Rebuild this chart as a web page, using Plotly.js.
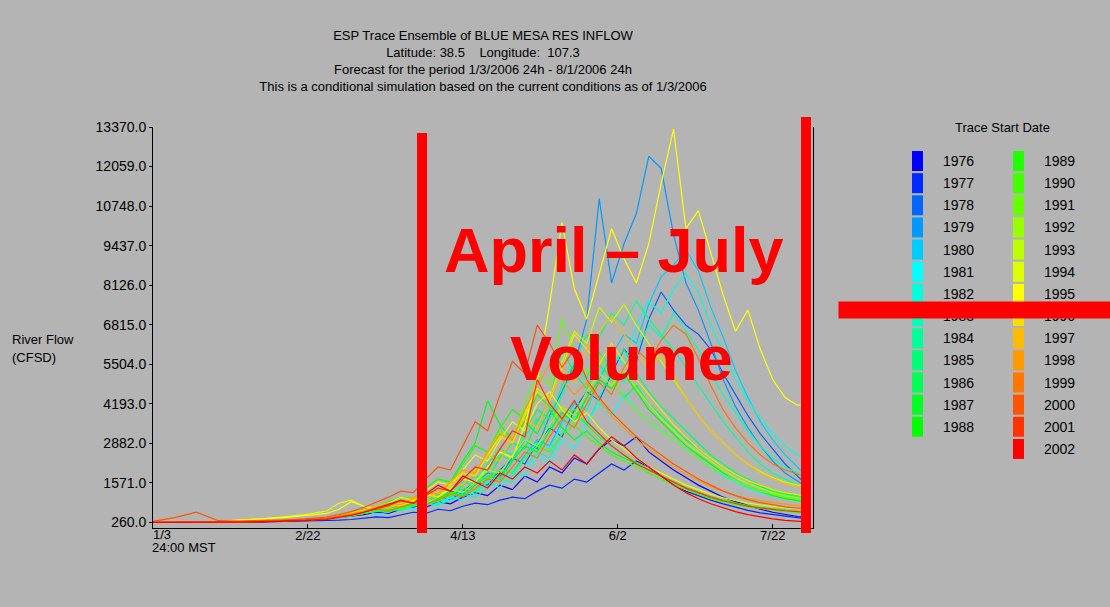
<!DOCTYPE html>
<html><head><meta charset="utf-8">
<script src="https://cdn.plot.ly/plotly-3.0.1.min.js"></script>
<style>html,body{margin:0;padding:0;background:#b4b4b4;}#chart{width:1110px;height:607px;}</style>
</head><body><div id="chart"></div>
<script>
// Day offsets from 1/3/2006 (24h)
const days = [0,7,14,21,28,35,42,49,56,60,64,68,72,76,80,84,88,92,96,100,104,108,112,116,120,124,128,132,136,140,144,148,152,156,160,164,168,172,176,180,184,188,192,196,200,204,208,210];

const years = [1976,1977,1978,1979,1980,1981,1982,1983,1984,1985,1986,1987,1988,1989,1990,1991,1992,1993,1994,1995,1996,1997,1998,1999,2000,2001,2002];
const colors = ['#0000ff','#0028ff','#0066ff','#0099ff','#00ccff','#00ffff','#00ffdd','#00ffbb','#00ff99','#00ff77','#00ff55','#00ff22','#00ff00','#22ff00','#44ff00','#66ff00','#99ff00','#bbff00','#ddff00','#ffff00','#ffdd00','#ffbb00','#ff9900','#ff7700','#ff5500','#ff3300','#ff0000'];

const flow1976 = [270,265,262,268,275,290,300,330, 380,420,470,520,600,560,700,820, 760,950,880,1100,1250,1150,1500,1350, 1800,1600,2100,1900,2400,2200,2700,3000, 2800,3100,2600,2300,2000,1750,1500,1300, 1100,950,820,700,600,520,460,440];
const flow1977 = [265,262,260,262,270,280,290,300, 320,340,360,400,450,420,520,600, 560,700,650,800,900,850,1000,1100, 1050,1300,1500,1400,1700,1600,1900,2200, 2000,2300,2100,1800,1500,1300,1150,1000, 880,760,660,580,520,460,420,400];
const flow1978 = [280,275,270,280,290,300,320,350, 400,450,500,560,620,700,800,760, 900,1100,1000,1300,1600,1500,2000,2400, 2200,2900,3400,3100,4000,4600,4300,5200, 6000,5600,7000,7900,7300,6800,6500,6000, 5200,4500,3800,3200,2700,2200,1800,1600];
const flow1979 = [280,275,272,280,290,300,320,360, 420,480,540,600,700,650,800,950, 880,1100,1300,1200,1600,1900,1800,2400, 3000,2700,3800,4600,5500,7000,11000,8200, 9500,10500,12400,12000,9800,8200,7300,6200, 5000,4100,3400,2800,2300,1900,1650,1500];
const flow1980 = [285,280,275,285,295,310,330,360, 400,460,520,580,650,750,700,850, 1000,950,1200,1400,1300,1700,2000,1900, 2500,3000,2800,3600,4200,4000,5000,5800, 6500,6200,7500,8400,8800,9300,8600,7400, 6400,5300,4400,3600,3000,2500,2100,1900];
const flow1981 = [275,270,268,275,285,300,320,340, 380,420,480,700,520,600,750,680, 900,800,1100,1000,1300,1600,1400,2000, 1800,2500,2200,3000,2700,3600,4200,3800, 4500,4000,3600,3300,3000,2700,2400,2100, 1800,1600,1400,1250,1150,1050,980,950];
const flow1982 = [280,275,270,280,290,300,320,350, 400,440,500,560,640,720,680,820, 950,900,1100,1300,1200,1600,1900,1800, 2400,2900,2700,3500,4300,4000,5100,5900, 5500,6800,7600,7200,8000,8500,7900,6800, 5900,5000,4300,3700,3200,2800,2500,2400];
const flow1983 = [285,280,275,285,295,310,330,360, 400,450,500,550,620,700,650,800, 900,850,1000,1200,1100,1400,1700,1600, 2100,2600,2400,3200,3800,3500,4400,5300, 4900,6000,6800,6400,7200,6600,6000,5200, 4500,3900,3300,2800,2400,2100,1900,1800];
const flow1984 = [280,275,272,280,290,305,325,355, 400,450,520,600,680,760,720,880, 1000,950,1300,1600,1500,2000,2500,2300, 3100,3700,3400,4500,5400,5000,6400,7200, 6800,7600,7000,6500,6000,5400,4800,4200, 3600,3100,2600,2200,1900,1700,1500,1400];
const flow1985 = [275,272,270,278,288,300,320,350, 390,440,500,580,660,760,900,820, 1100,1000,1400,1700,1600,2200,2700,2500, 3300,4000,3700,4800,5600,6500,5900,5400, 6000,5200,4600,4100,3700,3300,2900,2500, 2200,1900,1700,1500,1350,1250,1150,1100];
const flow1986 = [280,275,272,280,290,305,320,345, 380,430,480,560,640,740,860,800, 1000,1200,1100,1500,1800,1700,2400,2900, 2700,3600,4300,6000,5200,4700,5500,5000, 4400,4800,4200,3800,3400,3000,2700,2400, 2100,1850,1650,1450,1300,1200,1100,1050];
const flow1987 = [275,270,268,275,285,300,320,350, 400,460,540,640,760,900,1100,1000, 1400,1700,1600,2300,2900,4300,3500,3000, 3600,3200,4000,3400,3000,3300,2900,2600, 2400,2200,2000,1800,1600,1400,1250,1100, 980,880,800,740,690,650,620,600];
const flow1988 = [275,272,270,276,286,298,318,345, 390,440,500,580,660,620,760,900, 850,1050,1250,1150,1500,1800,1700,2300, 2800,2600,3300,3900,3600,4400,5000,4700, 5200,4600,4000,3600,3200,2800,2500,2200, 1900,1650,1450,1300,1150,1050,980,950];
const flow1989 = [278,274,270,278,290,305,330,370, 430,500,580,680,800,950,1100,1050, 1400,1700,1600,2200,2800,2600,3400,4000, 3700,4500,4100,3700,4000,3500,3100,2800, 2500,2250,2000,1800,1600,1400,1250,1100, 1000,900,820,760,700,660,630,610];
const flow1990 = [272,268,266,272,282,295,312,340, 380,430,490,560,640,740,700,850, 1000,950,1200,1400,1300,1700,2000,1900, 2400,2800,2600,3200,3500,3100,2800,2500, 2300,2100,1900,1700,1500,1350,1200,1050, 950,850,780,720,670,630,600,580];
const flow1991 = [278,274,270,278,288,302,322,352, 400,460,530,620,720,840,800,980, 1200,1100,1500,1900,1800,2600,3300,3000, 4200,5200,4800,7000,6000,5200,5800,5000, 4400,4000,3600,3300,3000,2700,2400,2100, 1850,1650,1450,1300,1200,1100,1050,1000];
const flow1992 = [276,272,270,276,286,300,318,348, 395,450,520,600,700,660,800,950, 900,1100,1350,1250,1600,2000,1900,2500, 3000,2800,3500,4100,3800,4600,5200,4800, 5300,4700,4200,3700,3300,2900,2600,2300, 2000,1750,1550,1400,1250,1150,1080,1050];
const flow1993 = [280,276,272,280,292,308,330,365, 420,490,570,670,790,920,880,1050, 1300,1200,1600,2000,1900,2600,3200,3000, 3900,4700,4400,5600,6600,6200,7400,6900, 7500,6800,6200,5600,5000,4400,3800,3300, 2900,2500,2200,1950,1750,1600,1500,1450];
const flow1994 = [285,280,276,300,340,380,450,520, 640,900,1000,800,700,900,1100,1000, 1300,1600,1500,2000,2500,2300,3000,3600, 3300,4200,4600,4000,3600,3900,3400,3000, 2700,2400,2100,1900,1700,1500,1350,1200, 1080,980,900,840,790,750,720,700];
const flow1995 = [290,285,280,300,330,380,420,480, 560,700,950,800,700,850,1000,950, 1200,1100,1400,1700,1600,2100,2600,2400, 3500,5000,7500,10200,8000,7000,8500,10000, 9000,8200,9500,11500,13300,10000,10600,9200, 7800,6600,7300,6000,5000,4400,4150,4150];
const flow1996 = [280,276,272,280,292,306,326,360, 410,470,540,630,740,870,820,1000, 1200,1100,1500,1900,1800,2500,3100,2900, 3800,4600,4300,5400,6500,6000,5500,6200, 5600,5000,4500,4000,3500,3100,2700,2400, 2100,1850,1650,1500,1350,1250,1180,1150];
const flow1997 = [282,278,274,282,294,310,332,368, 420,480,560,660,780,740,900,1100, 1000,1300,1600,1500,2000,2500,2300,3100, 3700,3400,4400,5300,4900,6000,6600,7100, 6500,5900,5300,5800,5100,4400,3800,3300, 2900,2500,2200,1900,1700,1550,1450,1400];
const flow1998 = [278,274,270,278,290,304,324,356, 405,465,540,640,760,900,850,1050, 1300,1200,1600,2000,1900,2600,3200,3000, 4000,4800,5500,5000,4500,4900,4300,3800, 3400,3000,2700,2400,2100,1850,1650,1450, 1300,1150,1050,980,920,870,830,800];
const flow1999 = [280,276,272,280,290,304,322,350, 395,450,520,600,700,660,780,900, 860,1000,1200,1100,1400,1700,1600,2100, 2600,2400,3100,3700,3400,4200,4900,4500, 5400,6000,5600,6300,6800,6500,5700,4800, 4000,3400,2900,2500,2200,2000,1850,1800];
const flow2000 = [300,420,600,320,310,320,340,380, 440,520,620,760,920,1100,1300,1250, 1700,2100,2000,2800,3600,3300,4500,5600, 5200,6800,6200,5400,6000,5000,4400,3900, 3500,3100,2800,2500,2200,1950,1700,1500, 1300,1150,1020,920,840,780,740,720];
const flow2001 = [268,265,262,268,278,292,310,340, 385,440,510,600,700,820,980,900, 1150,1400,1300,1700,2100,2000,2700,3300, 3100,5000,4200,3700,4300,3600,3200,2800, 2500,2200,2000,1800,1600,1400,1250,1100, 980,880,800,740,690,650,620,600];
const flow2002 = [262,260,258,262,270,280,295,320, 360,420,500,600,720,860,1000,900, 1200,1500,1300,1800,1600,1400,1900,1700, 2100,1900,2300,2000,2500,2200,2700,3100, 2800,2400,2100,1800,1500,1250,1050,880, 740,620,520,440,380,330,300,290];

const series = [flow1976,flow1977,flow1978,flow1979,flow1980,flow1981,flow1982,flow1983,flow1984,flow1985,flow1986,flow1987,flow1988,flow1989,flow1990,flow1991,flow1992,flow1993,flow1994,flow1995,flow1996,flow1997,flow1998,flow1999,flow2000,flow2001,flow2002];

const yTicks = [260,1571,2882,4193,5504,6815,8126,9437,10748,12059,13370];
const xTickDays = [0,50,100,150,200];
const xTickText = ['','2/22','4/13','6/2','7/22'];
const firstTickText = '1/3';
const firstTickSub = '24:00 MST';
const titleLines = ['ESP Trace Ensemble of BLUE MESA RES INFLOW','Latitude: 38.5&nbsp;&nbsp;&nbsp;&nbsp;Longitude:&nbsp; 107.3','Forecast for the period 1/3/2006 24h - 8/1/2006 24h','This is a conditional simulation based on the current conditions as of 1/3/2006'];

// layout geometry (pixels)
const L=153, R=813, T=127, B=528;
const px = x => (x-L)/(R-L);
const py = y => (B-y)/(B-T);
const FONT = 'Liberation Sans, Arial, sans-serif';
const BG = '#b4b4b4';

const traces = years.map((yr,i)=>({
  x: days, y: series[i], type:'scatter', mode:'lines', name:String(yr),
  line:{color:colors[i], width:1.2}, showlegend:false, hoverinfo:'x+y+name'
}));

const shapes = [];
const annotations = [];
// manual legend
annotations.push({xref:'paper',yref:'paper',x:px(1002),y:py(128),text:'Trace Start Date',showarrow:false,xanchor:'center',yanchor:'middle',font:{family:FONT,size:13,color:'#000'}});
years.forEach((yr,i)=>{
  const col = i<13?0:1, row = i<13?i:i-13;
  const yc = 161 + row*22.15;
  const x0 = 912 + col*101;
  shapes.push({type:'rect',xref:'paper',yref:'paper',x0:px(x0),x1:px(x0+11),y0:py(yc+10),y1:py(yc-10),fillcolor:colors[i],line:{width:0},layer:'above'});
  annotations.push({xref:'paper',yref:'paper',x:px(941+col*101),y:py(yc),text:String(yr),showarrow:false,xanchor:'left',yanchor:'middle',font:{family:FONT,size:14,color:'#000'}});
});
// red overlay bars
shapes.push({type:'rect',xref:'paper',yref:'paper',x0:px(417),x1:px(427),y0:py(533),y1:py(133),fillcolor:'#ff0000',line:{width:0},layer:'above'});
shapes.push({type:'rect',xref:'paper',yref:'paper',x0:px(801),x1:px(811),y0:py(533),y1:py(117),fillcolor:'#ff0000',line:{width:0},layer:'above'});
// axis-side labels
annotations.push({xref:'paper',yref:'paper',x:px(10),y:py(339),text:'River Flow',showarrow:false,xanchor:'left',yanchor:'middle',font:{family:FONT,size:13,color:'#000'}});
annotations.push({xref:'paper',yref:'paper',x:px(10),y:py(357),text:'(CFSD)',showarrow:false,xanchor:'left',yanchor:'middle',font:{family:FONT,size:13,color:'#000'}});
annotations.push({xref:'paper',yref:'paper',x:px(151),y:py(534),text:firstTickText,showarrow:false,xanchor:'left',yanchor:'middle',font:{family:FONT,size:13,color:'#000'}});
annotations.push({xref:'paper',yref:'paper',x:px(150),y:py(547),text:firstTickSub,showarrow:false,xanchor:'left',yanchor:'middle',font:{family:FONT,size:13,color:'#000'}});
// overlay text
annotations.push({xref:'paper',yref:'paper',x:px(614),y:py(250),text:'<b>April – July</b>',showarrow:false,xanchor:'center',yanchor:'middle',font:{family:FONT,size:63,color:'#ff0000'}});
annotations.push({xref:'paper',yref:'paper',x:px(621),y:py(358),text:'<b>Volume</b>',showarrow:false,xanchor:'center',yanchor:'middle',font:{family:FONT,size:63,color:'#ff0000'}});
// horizontal red bar (drawn over legend labels)
annotations.push({xref:'paper',yref:'paper',x:px(838),y:py(301),text:' ',showarrow:false,xanchor:'left',yanchor:'top',width:272,height:16,borderpad:0,bgcolor:'#ff0000',font:{size:10}});

const layout = {
  width:1110, height:607,
  paper_bgcolor:BG, plot_bgcolor:BG,
  margin:{l:L, r:1110-R, t:T, b:607-B, pad:0},
  font:{family:FONT, size:13, color:'#000'},
  title:{text:titleLines.join('<br>'), font:{family:FONT,size:13,color:'#000'}, x:0.5, xref:'paper', xanchor:'center', y:1-40/607, yref:'container', yanchor:'top'},
  xaxis:{range:[0,213], tickvals:xTickDays, ticktext:xTickText, ticks:'inside', ticklen:4, tickcolor:'#000', ticklabelstandoff:-5,
         showline:true, linecolor:'#000', linewidth:1, showgrid:false, zeroline:false, tickfont:{family:FONT,size:13,color:'#000'}, fixedrange:true},
  yaxis:{range:[78,13370], tickvals:yTicks, ticktext:yTicks.map(v=>v.toFixed(1)), ticks:'outside', ticklen:3, tickcolor:'#000',
         showline:true, linecolor:'#000', linewidth:1, mirror:true, showgrid:false, zeroline:false, tickfont:{family:FONT,size:14,color:'#000'}, fixedrange:true},
  shapes:shapes, annotations:annotations, showlegend:false
};
Plotly.newPlot('chart', traces, layout, {displayModeBar:false, staticPlot:true});
</script></body></html>
